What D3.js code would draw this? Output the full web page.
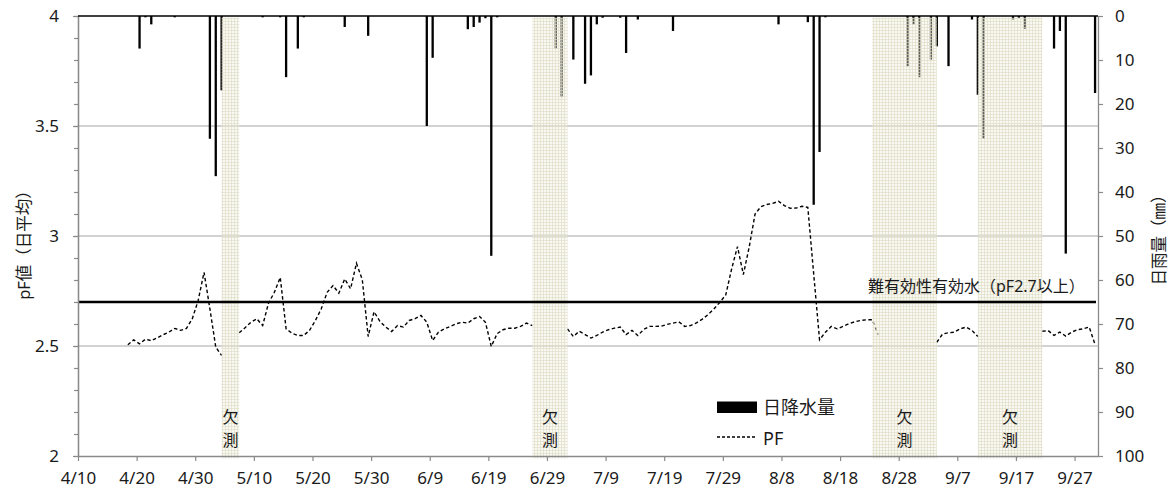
<!DOCTYPE html>
<html><head><meta charset="utf-8">
<script src="https://cdn.jsdelivr.net/npm/d3@7"></script>
<style>
body{margin:0;background:#fff;}
svg text{font-family:"Noto Sans","Noto Sans CJK JP",sans-serif;fill:#1a1a1a;}
</style></head>
<body><svg id="chart" width="1175" height="493"></svg>
<script>
const YEAR = 2015;
// daily rainfall (mm)
const rainDates = ["4/20","4/21","4/22","4/26","5/2","5/3","5/4","5/11","5/14","5/15","5/17","5/18","5/25","5/29",
  "6/8","6/9","6/15","6/16","6/17","6/18","6/19","6/20","6/30","7/1","7/3","7/5","7/6","7/7","7/8","7/11","7/12","7/14","7/20",
  "8/7","8/12","8/13","8/14","8/15","8/29","8/30","8/31","9/2","9/3","9/5","9/9","9/10","9/11","9/16","9/17","9/18",
  "9/23","9/24","9/25","9/30"];
const rainValues = [7.4,0.3,1.9,0.3,27.9,36.4,16.9,0.3,0.3,13.9,7.4,0.3,2.5,4.5,
  25.0,9.5,3.0,2.5,1.5,0.5,54.5,0.3,7.4,18.4,9.9,15.4,13.5,1.9,0.4,0.4,8.4,0.8,3.4,
  1.9,1.4,42.9,30.9,0.3,11.4,1.9,13.9,9.9,6.9,11.4,0.8,17.9,27.9,0.8,0.4,2.9,
  7.4,3.4,54.0,17.5];
// daily mean pF, consecutive days from pfStart (null = missing)
const pfStart = "4/18";
const pfValues = [
  2.506,2.528,2.510,2.531,2.524,2.537,2.551,2.563,2.580,2.571,2.580,2.624,2.707,2.835,2.669,2.495,2.457,
  null,null,
  2.560,2.583,2.608,2.624,2.593,2.695,2.744,2.812,2.578,2.558,2.548,2.548,2.571,2.616,2.669,2.744,2.775,2.740,
  2.805,2.760,2.876,2.801,2.543,2.656,2.612,2.586,2.566,2.593,2.586,2.616,2.624,2.639,2.608,2.525,2.563,2.578,
  2.589,2.601,2.608,2.604,2.624,2.634,2.608,2.498,2.556,2.574,2.581,2.581,2.589,2.604,2.593,
  null,null,null,null,null,
  2.578,2.543,2.567,2.552,2.536,2.548,2.563,2.574,2.581,2.586,2.552,2.571,2.548,2.575,2.589,2.589,2.590,2.598,
  2.604,2.610,2.589,2.593,2.605,2.622,2.643,2.669,2.699,2.732,2.850,2.952,2.825,2.950,3.100,3.133,3.143,3.148,
  3.158,3.138,3.126,3.127,3.135,3.130,2.828,2.528,2.563,2.589,2.578,2.589,2.601,2.610,2.616,2.619,2.619,2.552,
  null,null,null,null,null,null,null,null,null,
  2.517,2.555,2.560,2.563,2.578,2.586,2.571,2.543,
  null,null,null,null,null,null,null,null,null,null,
  2.567,2.570,2.548,2.563,2.545,2.563,2.574,2.578,2.586,2.507];
// missing-measurement periods
const missingStart = ["5/4","6/26","8/23","9/10"];
const missingEnd   = ["5/7","7/2","9/3","9/21"];
const xDomain = ["4/10","10/1"];
const xTickLabels = ["4/10","4/20","4/30","5/10","5/20","5/30","6/9","6/19","6/29","7/9","7/19","7/29","8/8","8/18","8/28","9/7","9/17","9/27"];
const pfTicks = [2,2.5,3,3.5,4];
const pfMinorTicks = [2,2.1,2.2,2.3,2.4,2.5,2.6,2.7,2.8,2.9,3,3.1,3.2,3.3,3.4,3.5,3.6,3.7,3.8,3.9,4];
const rainTicks = [0,10,20,30,40,50,60,70,80,90,100];
const threshold = 2.7;
const thresholdLabel = "難有効性有効水（pF2.7以上）";
const missingLabel = ["欠","測"];
const leftTitle = "pF値（日平均）";
const rightTitle = "日雨量（㎜）";
const legendLabels = ["日降水量","PF"];

const parse = s => { const [m,d] = s.split("/").map(Number); return new Date(Date.UTC(YEAR, m-1, d)); };
const mid = d => new Date(+d + 12*3600e3);

const W = 1175, H = 493;
const M = {top:16, right:77, bottom:37, left:78};
const svg = d3.select("#chart");
const x = d3.scaleUtc().domain(xDomain.map(parse)).range([M.left, W - M.right]);
const yL = d3.scaleLinear().domain([pfTicks[0], pfTicks[pfTicks.length-1]]).range([H - M.bottom, M.top]);
const yR = d3.scaleLinear().domain([rainTicks[0], rainTicks[rainTicks.length-1]]).range([M.top, H - M.bottom]);

const rain = rainDates.map((d,i) => ({date: parse(d), v: rainValues[i]}));
const pf0 = parse(pfStart);
const pf = pfValues.map((v,i) => ({date: d3.utcDay.offset(pf0, i), v}));
const bands = missingStart.map((s,i) => ({s: parse(s), e: parse(missingEnd[i])}));

// pattern
const defs = svg.append("defs");
const pat = defs.append("pattern").attr("id","miss").attr("patternUnits","userSpaceOnUse")
  .attr("width",3).attr("height",3);
pat.append("rect").attr("width",3).attr("height",3).attr("fill","rgba(240,238,222,0.4)");
pat.append("path").attr("d","M0,0.5H3M0.5,0V3").attr("stroke","rgba(222,218,194,0.6)").attr("stroke-width",1);

// gridlines
svg.append("g").selectAll("line").data(pfTicks.filter(t => t > pfTicks[0] && t < pfTicks[pfTicks.length-1]))
  .join("line").attr("x1", M.left).attr("x2", W - M.right)
  .attr("y1", d => yL(d)).attr("y2", d => yL(d)).attr("stroke","#a6a6a6").attr("stroke-width",1.2);

// rain bars
svg.append("g").selectAll("rect").data(rain).join("rect")
  .attr("x", d => x(mid(d.date)) - 1.15).attr("width", 2.3)
  .attr("y", yR(0)).attr("height", d => yR(d.v) - yR(0)).attr("fill","#000");

// PF line
const line = d3.line().defined(d => d.v != null).x(d => x(mid(d.date))).y(d => yL(d.v));
svg.append("path").datum(pf).attr("d", line).attr("fill","none").attr("stroke","#000")
  .attr("stroke-width",1.4).attr("stroke-dasharray","3.5,2.5");

// missing bands
svg.append("g").selectAll("rect").data(bands).join("rect")
  .attr("x", d => x(mid(d.s))).attr("width", d => x(mid(d.e)) - x(mid(d.s)))
  .attr("y", M.top + 1.5).attr("height", H - M.bottom - M.top + 1)
  .attr("fill","url(#miss)");

// threshold
svg.append("line").attr("x1", M.left).attr("x2", W - M.right - 2)
  .attr("y1", yL(threshold)).attr("y2", yL(threshold)).attr("stroke","#000").attr("stroke-width",2.6);
svg.append("text").attr("x", 868).attr("y", yL(threshold) - 16).attr("dominant-baseline","central")
  .attr("font-size","16px").text(thresholdLabel);

// missing labels
const ml = svg.append("g").selectAll("g").data(bands).join("g");
missingLabel.forEach((ch,i) => {
  ml.append("text").attr("x", d => (x(mid(d.s)) + x(mid(d.e)))/2).attr("y", 417 + i*23)
    .attr("text-anchor","middle").attr("dominant-baseline","central").attr("font-size","16px").text(ch);
});

// axes
function styleAxis(g){
  g.attr("font-family",null).attr("font-size",null);
  g.selectAll(".domain").attr("stroke","#8a8a8a").attr("stroke-width",1.3);
  g.selectAll(".tick line").attr("stroke","#8a8a8a").attr("stroke-width",1.2);
  g.selectAll(".tick text").attr("font-size","17px").attr("fill","#1a1a1a");
}
svg.append("g").attr("transform",`translate(0,${H - M.bottom})`)
  .call(d3.axisBottom(x).tickValues(xTickLabels.map(parse)).tickFormat(d3.utcFormat("%-m/%-d"))
    .tickSize(5).tickSizeOuter(0).tickPadding(11)).call(styleAxis);
svg.append("g").attr("transform",`translate(${M.left},0)`)
  .call(d3.axisLeft(yL).tickValues(pfMinorTicks).tickFormat("").tickSize(4).tickSizeOuter(0)).call(styleAxis);
svg.append("g").attr("transform",`translate(${M.left},0)`)
  .call(d3.axisLeft(yL).tickValues(pfTicks).tickFormat(d3.format("")).tickSize(5).tickSizeOuter(0).tickPadding(14)).call(styleAxis);
svg.append("g").attr("transform",`translate(${W - M.right},0)`)
  .call(d3.axisRight(yR).tickValues(rainTicks).tickSize(5).tickSizeOuter(0).tickPadding(12)).call(styleAxis);

// top baseline of bars
svg.append("line").attr("x1", M.left).attr("x2", W - M.right).attr("y1", yR(0)).attr("y2", yR(0))
  .attr("stroke","#000").attr("stroke-width",1.5);

// titles
svg.append("text").attr("transform",`translate(23,${(M.top + H - M.bottom)/2 + 5}) rotate(-90)`)
  .attr("text-anchor","middle").attr("dominant-baseline","central").attr("font-size","16.5px").text(leftTitle);
svg.append("text").attr("transform",`translate(1158,${(M.top + H - M.bottom)/2}) rotate(-90)`)
  .attr("text-anchor","middle").attr("dominant-baseline","central").attr("font-size","16.5px").text(rightTitle);

// legend
const lg = svg.append("g");
lg.append("rect").attr("x",717).attr("y",401.5).attr("width",40).attr("height",11.5).attr("fill","#000");
lg.append("text").attr("x",763).attr("y",407).attr("dominant-baseline","central").attr("font-size","18px").text(legendLabels[0]);
lg.append("line").attr("x1",717).attr("x2",757).attr("y1",437).attr("y2",437).attr("stroke","#000")
  .attr("stroke-width",1.3).attr("stroke-dasharray","3,2");
lg.append("text").attr("x",763).attr("y",438).attr("dominant-baseline","central").attr("font-size","18px").text(legendLabels[1]);
</script>
</body></html>
